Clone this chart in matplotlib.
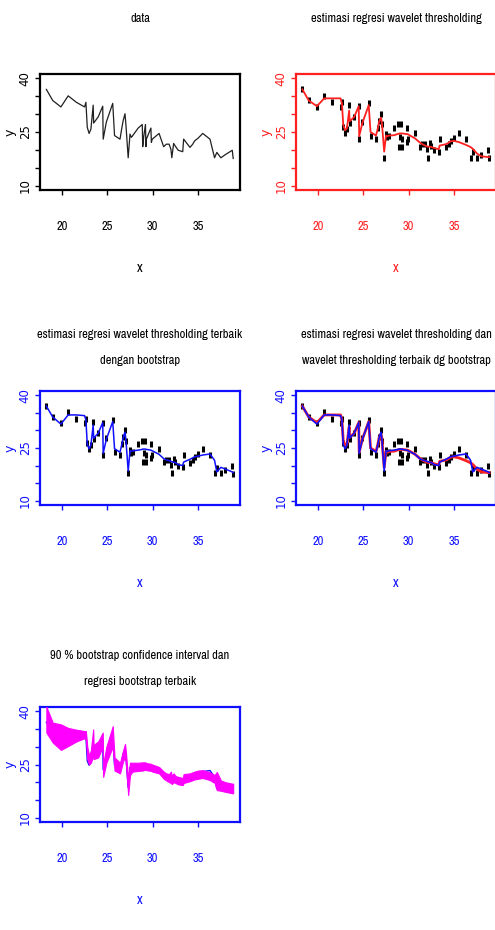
import matplotlib
matplotlib.use("Agg")
import matplotlib.pyplot as plt
import matplotlib.font_manager as fm

# ---------------- data ----------------
x = [18.3, 19.0, 19.9, 20.7, 21.6, 22.5, 22.65, 22.8, 23.0, 23.2,
     23.45, 23.5, 24.0, 24.5, 24.55, 24.9, 25.6, 25.8, 26.4, 26.6,
     26.75, 26.95, 27.05, 27.3, 27.5, 27.65, 27.8, 28.4, 28.85, 28.9,
     29.0, 29.2, 29.25, 29.3, 29.8, 29.85, 29.95, 30.7, 31.2, 31.5,
     31.8, 32.0, 32.1, 32.3, 32.5, 32.8, 33.3, 33.4, 34.1, 34.4,
     34.6, 35.0, 35.5, 36.3, 36.8, 37.05, 37.5, 38.0, 38.75, 38.85]
y = [36.9, 33.8, 32.0, 35.1, 33.3, 32.0, 33.3, 26.3, 24.6, 25.8,
     32.5, 27.5, 29.2, 32.2, 23.0, 27.8, 33.0, 24.0, 23.0, 26.1,
     28.2, 30.1, 27.1, 17.8, 24.4, 23.5, 24.0, 26.1, 27.1, 20.9,
     23.5, 27.1, 20.9, 23.0, 26.1, 22.1, 23.0, 24.6, 20.9, 21.6,
     21.6, 20.2, 17.8, 21.8, 21.0, 19.9, 19.5, 23.0, 20.7, 21.6,
     22.5, 23.3, 24.6, 23.0, 17.8, 19.3, 17.8, 18.7, 19.9, 17.6]
wavelet = [36.9, 33.8, 32.2, 34.4, 34.4, 34.4, 33.0, 27.0, 25.5, 26.0,
           31.0, 28.0, 29.2, 32.2, 23.8, 27.5, 32.5, 25.0, 24.0, 26.0,
           28.0, 29.0, 27.5, 19.5, 24.0, 23.8, 24.0, 24.1, 24.5, 24.5,
           24.6, 24.6, 24.6, 24.6, 24.4, 24.4, 24.3, 23.2, 22.1, 21.6,
           21.2, 21.0, 20.9, 20.9, 20.8, 20.5, 20.2, 21.2, 21.6, 22.0,
           22.4, 22.5, 22.2, 21.4, 20.8, 20.3, 19.0, 18.2, 18.0, 18.0]
boot = [36.9, 33.8, 31.8, 34.4, 34.4, 34.2, 33.0, 26.0, 24.8, 25.8,
        31.5, 27.8, 29.2, 32.2, 23.5, 27.5, 32.5, 24.8, 23.8, 26.0,
        28.0, 29.5, 27.3, 18.5, 24.2, 24.0, 24.2, 24.4, 24.6, 24.7,
        24.7, 24.7, 24.6, 24.6, 24.4, 24.3, 24.2, 23.2, 22.0, 21.6,
        21.4, 21.2, 21.1, 21.0, 20.8, 20.3, 20.0, 21.0, 21.8, 22.2,
        22.5, 22.7, 23.0, 23.3, 21.5, 18.2, 19.5, 19.0, 18.2, 18.0]
lower = [34.0, 31.2, 29.1, 30.2, 31.5, 32.4, 32.0, 26.5, 25.0, 25.5,
         27.5, 26.5, 27.0, 30.0, 21.5, 25.5, 30.0, 23.3, 22.5, 24.5,
         26.0, 27.0, 25.0, 16.4, 22.0, 22.6, 23.0, 23.2, 23.3, 23.3,
         23.4, 23.5, 23.5, 23.4, 23.2, 23.2, 23.0, 22.5, 21.0, 20.5,
         20.0, 19.8, 19.5, 20.0, 19.8, 19.4, 19.2, 19.8, 20.3, 20.6,
         20.8, 21.0, 21.2, 20.6, 19.8, 17.8, 17.6, 17.3, 16.9, 16.9]
upper = [41.3, 36.8, 36.3, 35.3, 34.8, 34.4, 34.4, 30.0, 27.5, 29.0,
         34.9, 30.5, 31.5, 34.0, 25.0, 30.0, 35.8, 27.0, 25.5, 27.5,
         29.0, 30.8, 28.5, 21.0, 25.5, 25.5, 25.5, 25.5, 25.6, 25.6,
         25.6, 25.6, 25.5, 25.4, 25.2, 25.1, 25.0, 24.3, 23.0, 22.5,
         22.3, 23.0, 21.8, 22.5, 21.8, 21.5, 21.2, 22.3, 22.5, 22.8,
         23.0, 23.3, 23.4, 22.8, 22.0, 22.9, 20.5, 20.0, 19.6, 19.6]

xticks = [20, 25, 30, 35]
yticks = [10, 15, 20, 25, 30, 35, 40]
ytick_labels = ["10", "", "", "25", "", "", "40"]

titles = [
    ["data"],
    ["estimasi regresi wavelet thresholding"],
    ["estimasi regresi wavelet thresholding terbaik", "dengan bootstrap"],
    ["estimasi regresi wavelet thresholding dan",
     "wavelet thresholding terbaik dg bootstrap"],
    ["90 % bootstrap confidence interval dan", "regresi bootstrap terbaik"],
]

# ---------------- fonts: prefer a narrow / condensed sans face ----------------
def pick_narrow():
    order = {"ultra-condensed": 0, "extra-condensed": 1, "condensed": 2,
             "semi-condensed": 3}
    best = None
    for f in fm.fontManager.ttflist:
        nm = f.name.lower()
        if "mono" in nm or "serif" in nm or "cjk" in nm:
            continue
        if f.style != "normal":
            continue
        w = f.weight if isinstance(f.weight, int) else 400
        if w not in (400, "normal"):
            continue
        if "narrow" in nm or "condensed" in nm:
            rank = 1
        elif f.stretch in order:
            rank = order[f.stretch]
        else:
            continue
        if best is None or rank < best[0]:
            best = (rank, f.fname)
    if best:
        return fm.FontProperties(fname=best[1])
    return fm.FontProperties(family="Liberation Sans")


HPROP = pick_narrow()
VPROP = fm.FontProperties(family="DejaVu Sans")

W, H = 495, 930
fig = plt.figure(figsize=(W / 100, H / 100), dpi=100)
fig.patch.set_facecolor("white")
renderer = fig.canvas.get_renderer()


def fit_size(text, target_px, base=10.0, prop=None):
    t = fig.text(0, 0, text, fontproperties=prop, fontsize=base)
    wpx = t.get_window_extent(renderer=renderer).width
    t.remove()
    return base * target_px / wpx


TITLE_SIZE = min(fit_size("estimasi regresi wavelet thresholding", 172, prop=HPROP), 12)
TICK_SIZE = min(fit_size("20 25 30 35", 10 * 4 + 3 * 8, prop=HPROP), 9)

RED = "#FF2020"
BLUE = "#1010FF"
MAG = "#FF00FF"

# box pixel geometry: (left, top, right, bottom)
boxes = [
    (40, 74, 240, 190),
    (296, 74, 496, 190),
    (40, 391, 240, 505),
    (296, 391, 496, 505),
    (40, 707, 240, 822),
]
colors = ["black", RED, BLUE, BLUE, BLUE]
title_y = [[18], [18], [335, 360], [335, 360], [655, 681]]


def make_ax(i):
    l, t, r, b = boxes[i]
    ax = fig.add_axes([l / W, 1 - b / H, (r - l) / W, (b - t) / H])
    c = colors[i]
    ax.set_xlim(17.6, 39.6)
    ax.set_ylim(8.8, 41.2)
    for s in ax.spines.values():
        s.set_color(c)
        s.set_linewidth(1.6)
    ax.set_xticks(xticks)
    ax.set_xticklabels([str(v) for v in xticks], color=c,
                       fontproperties=HPROP, fontsize=TICK_SIZE)
    ax.set_yticks(yticks)
    ax.set_yticklabels(ytick_labels, rotation=90, va="center", color=c,
                       fontproperties=VPROP, fontsize=8.5)
    ax.tick_params(axis="x", direction="out", length=3.5, width=1, color=c, pad=19)
    ax.tick_params(axis="y", direction="out", length=3.5, width=1, color=c, pad=2.5)
    cx = (l + r) / 2
    fig.text(cx / W, 1 - (b + 78) / H, "x", color=c, fontproperties=HPROP,
             fontsize=TICK_SIZE + 1, ha="center", va="center")
    fig.text((l - 30) / W, 1 - ((t + b) / 2) / H, "y", color=c, fontproperties=VPROP,
             fontsize=9, rotation=90, ha="center", va="center")
    for line, yy in zip(titles[i], title_y[i]):
        fig.text(cx / W, 1 - yy / H, line, color="black", fontproperties=HPROP,
                 fontsize=TITLE_SIZE, ha="center", va="center")
    return ax


# panel 1: data
ax = make_ax(0)
ax.plot(x, y, color="#202020", lw=0.9)

# panel 2: wavelet thresholding
ax = make_ax(1)
ax.plot(x, y, linestyle="none", marker="|", ms=4.5, mew=2.2, color="black")
ax.plot(x, wavelet, color=RED, lw=1.3)

# panel 3: best bootstrap
ax = make_ax(2)
ax.plot(x, y, linestyle="none", marker="|", ms=4.5, mew=2.2, color="black")
ax.plot(x, boot, color=BLUE, lw=1.1)

# panel 4: both
ax = make_ax(3)
ax.plot(x, y, linestyle="none", marker="|", ms=4.5, mew=2.2, color="black")
ax.plot(x, wavelet, color=RED, lw=2.0)
ax.plot(x, boot, color=BLUE, lw=1.2)

# panel 5: confidence band
ax = make_ax(4)
ax.plot(x, boot, color=BLUE, lw=1.0, zorder=2)
ax.fill_between(x, lower, upper, color=MAG, edgecolor=MAG, linewidth=0.8, zorder=3)

fig.savefig("out.png", dpi=100)
